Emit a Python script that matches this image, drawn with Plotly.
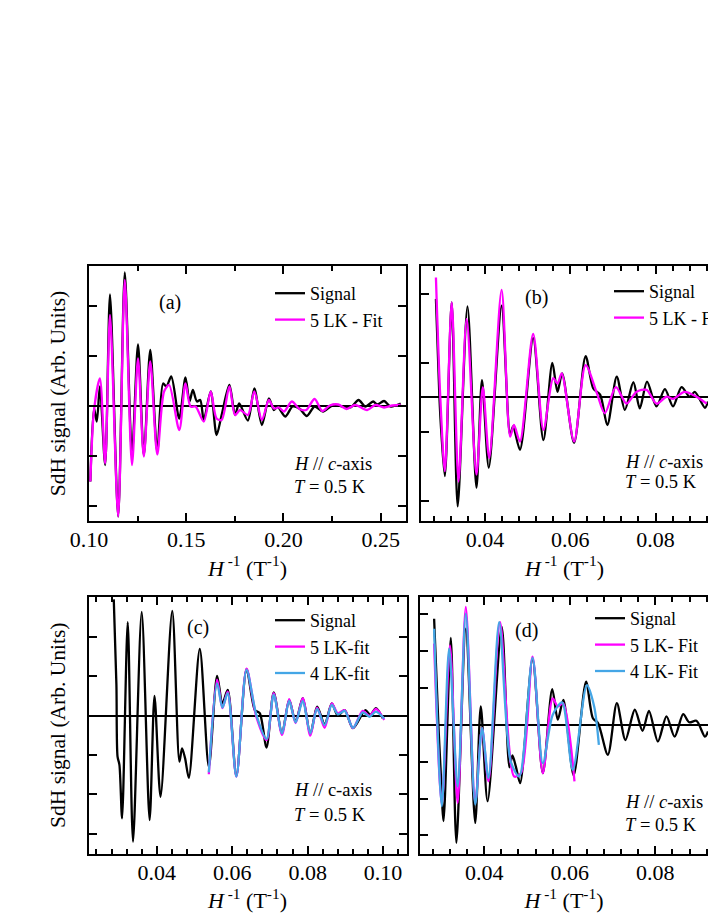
import plotly.graph_objects as go

# panel (a): H // c, 0.1 - 0.26 T^-1
a_sig_x = [0.1007, 0.1026, 0.1040, 0.1056, 0.1083, 0.1108, 0.1150, 0.1184, 0.1221, 0.1252,
           0.1282, 0.1315, 0.1351, 0.1381, 0.1398, 0.1423, 0.1464, 0.1496, 0.1517, 0.1534,
           0.1555, 0.1572, 0.1590, 0.1626, 0.1656, 0.1682, 0.1722, 0.1751, 0.1772, 0.1817,
           0.1850, 0.1889, 0.1925, 0.1951, 0.1969, 0.2009, 0.2047, 0.2082, 0.2120, 0.2160,
           0.2203, 0.2256, 0.2343, 0.2386, 0.2421, 0.2461, 0.2482, 0.2517, 0.2551, 0.2603]
a_sig_y = [-1.51, -0.05, -0.31, 0.39, -1.18, 2.23, -2.21, 2.67, -0.95, 1.23,
           -0.98, 1.12, -0.91, 0.45, 0.39, 0.59, -0.25, 0.57, 0.09, 0.32,
           0.09, 0.12, -0.28, 0.29, -0.58, -0.18, 0.42, -0.18, 0.05, -0.29,
           0.35, -0.38, 0.15, -0.08, -0.01, -0.21, -0.01, -0.05, -0.20, -0.01,
           -0.11, 0.02, -0.03, 0.12, -0.01, 0.09, 0.03, 0.10, -0.01, 0.05]
a_fit5_x = [0.1007, 0.1026, 0.1056, 0.1083, 0.1108, 0.1150, 0.1184, 0.1221, 0.1252, 0.1282,
            0.1315, 0.1351, 0.1386, 0.1412, 0.1464, 0.1496, 0.1522, 0.1548, 0.1590, 0.1626,
            0.1656, 0.1682, 0.1722, 0.1751, 0.1777, 0.1817, 0.1850, 0.1889, 0.1925, 0.1951,
            0.1977, 0.2003, 0.2043, 0.2082, 0.2117, 0.2160, 0.2200, 0.2238, 0.2282, 0.2325,
            0.2369, 0.2430, 0.2473, 0.2517, 0.2560, 0.2603]
a_fit5_y = [-1.51, -0.08, 0.55, -1.15, 1.82, -2.21, 2.52, -1.18, 0.95, -1.01,
            0.89, -0.97, 0.29, 0.42, -0.48, 0.45, -0.01, -0.01, -0.31, 0.29,
            -0.25, -0.28, 0.39, -0.18, -0.08, -0.18, 0.29, -0.28, 0.12, -0.05,
            -0.03, -0.11, 0.09, -0.06, -0.08, 0.14, -0.10, 0.01, 0.03, -0.06,
            0.02, -0.08, 0.02, -0.03, 0.01, 0.02]

# panel (b)
b_sig_x = [0.0285, 0.0293, 0.0298, 0.0306, 0.0322, 0.0336, 0.0359, 0.0380, 0.0393, 0.0409,
           0.0439, 0.0459, 0.0466, 0.0482, 0.0513, 0.0537, 0.0558, 0.0570, 0.0581, 0.0609,
           0.0636, 0.0654, 0.0670, 0.0687, 0.0709, 0.0728, 0.0748, 0.0763, 0.0780, 0.0802,
           0.0822, 0.0841, 0.0861, 0.0880, 0.0892, 0.0916, 0.0923]
b_sig_y = [1.43, 0.03, -0.54, -1.14, 1.38, -1.58, 1.32, -1.31, 0.25, -1.02,
           1.33, -0.54, -0.42, -0.76, 0.86, -0.62, 0.50, 0.08, 0.35, -0.66,
           0.60, 0.13, 0.04, -0.40, 0.30, -0.18, 0.22, -0.16, 0.23, -0.13,
           0.12, -0.13, 0.15, 0.01, 0.08, -0.15, -0.06]
b_fit5_x = [0.0285, 0.0295, 0.0306, 0.0322, 0.0338, 0.0357, 0.0380, 0.0395, 0.0410, 0.0439,
            0.0459, 0.0468, 0.0482, 0.0513, 0.0537, 0.0560, 0.0570, 0.0580, 0.0609, 0.0636,
            0.0662, 0.0681, 0.0707, 0.0732, 0.0755, 0.0779, 0.0802, 0.0826, 0.0841, 0.0868,
            0.0896, 0.0920]
b_fit5_y = [1.74, 0.03, -1.07, 1.38, -1.22, 1.14, -1.12, 0.15, -0.88, 1.56,
            -0.57, -0.40, -0.64, 0.92, -0.47, 0.28, 0.20, 0.35, -0.64, 0.47,
            0.07, -0.23, 0.15, -0.09, 0.08, 0.11, -0.09, 0.01, -0.02, 0.08,
            0.01, -0.09]

# panel (c)
c_sig_x = [0.0286, 0.0293, 0.0296, 0.0301, 0.0308, 0.0323, 0.0337, 0.0360, 0.0381, 0.0394,
           0.0410, 0.0441, 0.0460, 0.0467, 0.0475, 0.0485, 0.0514, 0.0538, 0.0560, 0.0574,
           0.0588, 0.0611, 0.0638, 0.0660, 0.0673, 0.0691, 0.0710, 0.0732, 0.0751, 0.0768,
           0.0787, 0.0807, 0.0825, 0.0845, 0.0864, 0.0880, 0.0898, 0.0920, 0.0953, 0.0966,
           0.0981, 0.0999]
c_sig_y = [2.95, 0.78, -1.04, -1.25, -2.61, 2.37, -3.20, 2.63, -2.65, 0.50,
           -2.06, 2.66, -1.17, -0.83, -1.08, -1.58, 1.69, -1.30, 1.01, 0.31,
           0.65, -1.53, 1.18, 0.14, 0.06, -0.81, 0.59, -0.45, 0.40, -0.15,
           0.44, -0.47, 0.23, -0.22, 0.31, 0.00, 0.14, -0.32, 0.14, 0.02,
           0.19, -0.07]
c_fit_x = [0.0538, 0.0560, 0.0574, 0.0588, 0.0611, 0.0638, 0.0664, 0.0691, 0.0710, 0.0732,
           0.0751, 0.0768, 0.0787, 0.0807, 0.0825, 0.0845, 0.0864, 0.0880, 0.0898, 0.0920,
           0.0946, 0.0964, 0.0981, 0.1003]
c_fit5_y = [-1.49, 0.91, 0.19, 0.61, -1.55, 1.19, -0.03, -0.62, 0.57, -0.49,
            0.42, -0.19, 0.44, -0.51, 0.20, -0.31, 0.31, 0.06, 0.14, -0.32,
            0.12, -0.01, 0.17, -0.11]
c_fit4_y = [-1.44, 0.82, 0.20, 0.57, -1.55, 1.16, 0.02, -0.59, 0.53, -0.45,
            0.37, -0.17, 0.37, -0.45, 0.17, -0.24, 0.27, 0.03, 0.12, -0.31,
            0.08, -0.03, 0.10, -0.08]

# panel (d)
d_sig_x = [0.0283, 0.0293, 0.0298, 0.0305, 0.0322, 0.0335, 0.0357, 0.0379, 0.0392, 0.0408,
           0.0441, 0.0459, 0.0466, 0.0474, 0.0484, 0.0513, 0.0537, 0.0559, 0.0572, 0.0585,
           0.0609, 0.0638, 0.0654, 0.0666, 0.0689, 0.0710, 0.0730, 0.0752, 0.0770, 0.0785,
           0.0806, 0.0826, 0.0845, 0.0865, 0.0879, 0.0896, 0.0916, 0.0923]
d_sig_y = [2.88, 0.00, -1.17, -2.61, 2.36, -3.20, 2.61, -2.66, 0.50, -2.07,
           2.66, -1.15, -0.83, -1.13, -1.58, 1.78, -1.31, 0.97, 0.14, 0.68,
           -1.37, 1.17, 0.18, 0.05, -0.81, 0.59, -0.41, 0.41, -0.16, 0.38,
           -0.45, 0.23, -0.32, 0.29, 0.07, 0.11, -0.32, -0.18]
d_fit5_x = [0.0283, 0.0301, 0.0320, 0.0338, 0.0357, 0.0379, 0.0395, 0.0410, 0.0437, 0.0470,
            0.0486, 0.0513, 0.0537, 0.0560, 0.0572, 0.0584, 0.0611]
d_fit5_y = [2.21, -2.16, 2.16, -2.12, 3.20, -2.12, -0.09, -1.53, 2.79, -1.40,
            -1.31, 1.85, -1.31, 0.72, 0.50, 0.59, -1.53]
d_fit4_x = [0.0283, 0.0301, 0.0318, 0.0338, 0.0357, 0.0379, 0.0395, 0.0410, 0.0435, 0.0462,
            0.0482, 0.0513, 0.0537, 0.0560, 0.0582, 0.0607, 0.0640, 0.0657, 0.0668]
d_fit4_y = [2.61, -2.21, 2.07, -1.67, 3.02, -2.16, -0.09, -1.44, 2.79, -0.99,
            -1.40, 1.82, -1.04, 0.27, 0.61, -1.22, 1.08, 0.50, -0.54]

W, H = 708, 917
BLACK, MAGENTA, BLUE = "#000000", "#ff00ff", "#44a6e6"
FONT = "Liberation Serif"


def px(x):
    return x / W


def py(y):
    return 1 - y / H


fig = go.Figure()


def add(x, y, color, name, xa, ya, legend):
    fig.add_trace(go.Scatter(x=x, y=y, mode="lines", name=name,
                             line=dict(color=color, width=2.3, shape="spline", smoothing=0.8),
                             xaxis=xa, yaxis=ya, legend=legend))


add(a_sig_x, a_sig_y, BLACK, "Signal", "x", "y", "legend")
add(a_fit5_x, a_fit5_y, MAGENTA, "5 LK - Fit", "x", "y", "legend")
add(b_sig_x, b_sig_y, BLACK, "Signal", "x2", "y2", "legend2")
add(b_fit5_x, b_fit5_y, MAGENTA, "5 LK - Fit", "x2", "y2", "legend2")
add(c_sig_x, c_sig_y, BLACK, "Signal", "x3", "y3", "legend3")
add(c_fit_x, c_fit5_y, MAGENTA, "5 LK-fit", "x3", "y3", "legend3")
add(c_fit_x, c_fit4_y, BLUE, "4 LK-fit", "x3", "y3", "legend3")
add(d_sig_x, d_sig_y, BLACK, "Signal", "x4", "y4", "legend4")
add(d_fit5_x, d_fit5_y, MAGENTA, "5 LK- Fit", "x4", "y4", "legend4")
add(d_fit4_x, d_fit4_y, BLUE, "4 LK- Fit", "x4", "y4", "legend4")


def xax(domain, rng, tickvals, minor, yanchor):
    return dict(domain=domain, range=rng, anchor=yanchor, tickvals=tickvals, automargin=False,
                tickformat=".2f", ticks="inside", ticklen=8, tickwidth=1.5, tickcolor=BLACK,
                ticklabelstandoff=-2,
                minor=dict(dtick=minor, tick0=0, ticks="inside", ticklen=5, tickwidth=1.5,
                           tickcolor=BLACK),
                showline=True, linecolor=BLACK, linewidth=2, mirror="ticks",
                showgrid=False, zeroline=False,
                tickfont=dict(family=FONT, size=22, color=BLACK),
                title=dict(text="<i>H</i><sup> -1</sup> (T<sup>-1</sup>)",
                           font=dict(family=FONT, size=22, color=BLACK), standoff=0))


def yax(domain, rng, tickvals, xanchor, mirror, title):
    d = dict(domain=domain, range=rng, anchor=xanchor, tickvals=tickvals, automargin=False,
             showticklabels=False, ticks="inside", ticklen=8, tickwidth=1.5, tickcolor=BLACK,
             showline=True, linecolor=BLACK, linewidth=2, mirror="ticks" if mirror else False,
             showgrid=False, zeroline=True, zerolinecolor=BLACK, zerolinewidth=2)
    if title:
        d["title"] = dict(text="SdH signal (Arb. Units)",
                          font=dict(family=FONT, size=21.5, color=BLACK), standoff=15)
    return d


fig.update_layout(
    xaxis=xax([px(89), px(406)], [0.1, 0.263], [0.10, 0.15, 0.20, 0.25], 0.025, "y"),
    yaxis=yax([py(521), py(266)], [-2.3, 2.8], [-2, -1, 0, 1, 2], "x", True, True),
    xaxis2=xax([px(421), 1.0], [0.025, 0.0923], [0.04, 0.06, 0.08], 0.004, "y2"),
    yaxis2=yax([py(521), py(266)], [-1.793, 1.907], [-1.5, -0.5, 0.5, 1.5], "x2", False, False),
    xaxis3=xax([px(88.5), px(406.5)], [0.0219, 0.1062], [0.04, 0.06, 0.08, 0.10], 0.004, "y3"),
    yaxis3=yax([py(853.5), py(597)], [-3.5, 3.01], [-3, -2, -1, 0, 1, 2], "x3", True, True),
    xaxis4=xax([px(420), 1.0], [0.025, 0.0923], [0.04, 0.06, 0.08], 0.004, "y4"),
    yaxis4=yax([py(853.5), py(597)], [-3.49, 3.47], [-3, -2, -1, 0, 1, 2, 3], "x4", False, False),
)

leg_common = dict(font=dict(family=FONT, size=18, color=BLACK), bgcolor="rgba(0,0,0,0)",
                  xanchor="left", yanchor="top", tracegroupgap=0, traceorder="normal")
fig.update_layout(
    legend=dict(x=px(270), y=py(275), **leg_common),
    legend2=dict(x=px(609), y=py(273), **leg_common),
    legend3=dict(x=px(270), y=py(602), **leg_common),
    legend4=dict(x=px(590), y=py(600), **leg_common),
)

ann_font = dict(family=FONT, size=20, color=BLACK)
txt_font = dict(family=FONT, size=18.5, color=BLACK)
labels = [
    ("(a)", 157, 302, ann_font),
    ("(b)", 523, 297, ann_font),
    ("(c)", 185, 627, ann_font),
    ("(d)", 513, 630, ann_font),
    ("<i>H</i> // <i>c</i>-axis", 292, 464, txt_font),
    ("<i>T</i> = 0.5 K", 292, 487, txt_font),
    ("<i>H</i> // <i>c</i>-axis", 623, 462, txt_font),
    ("<i>T</i> = 0.5 K", 623, 482, txt_font),
    ("<i>H</i> // c-axis", 292, 790, txt_font),
    ("<i>T</i> = 0.5 K", 292, 815, txt_font),
    ("<i>H</i> // <i>c</i>-axis", 623, 802, txt_font),
    ("<i>T</i> = 0.5 K", 623, 825, txt_font),
]
for text, x, y, f in labels:
    fig.add_annotation(text=text, x=px(x), y=py(y), xref="paper", yref="paper",
                       xanchor="left", yanchor="middle", showarrow=False, font=f)

# the right-hand legends run past the page edge (cut off, as in the source figure),
# so the margins must not grow to make room for them
fig.update_layout(template="none", autosize=False, width=W, height=H,
                  margin=dict(l=0, r=0, t=0, b=0, autoexpand=False),
                  plot_bgcolor="white", paper_bgcolor="white", showlegend=True)

# fixed size page: no body margin, no scrollbars, no resizing
fig.write_html("out.html", config=dict(responsive=False, displayModeBar=False),
               post_script="document.body.style.margin = '0'; document.body.style.overflow = 'hidden';")
